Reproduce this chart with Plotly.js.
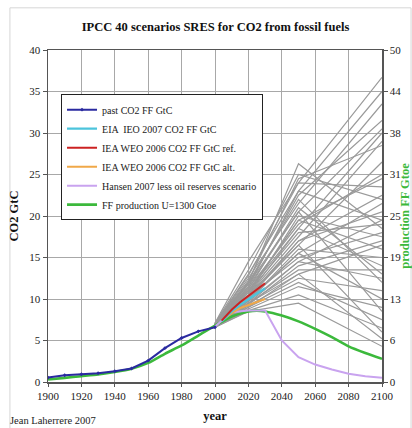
<!DOCTYPE html>
<html><head><meta charset="utf-8">
<script src="https://cdn.plot.ly/plotly-3.0.1.min.js"></script>
<style>html,body{margin:0;padding:0;background:#fff}#chart{width:412px;height:428px}</style>
</head><body><div id="chart"></div>
<script>
// ---- data ----
const pastYears = [1900,1910,1920,1930,1940,1950,1960,1970,1980,1990,2000];
const pastCO2 = [0.53,0.82,0.93,1.05,1.3,1.63,2.58,4.08,5.3,6.1,6.6];

const eiaYears = [2004,2010,2015,2020,2025,2030];
const eiaCO2 = [7.3,8.5,9.3,10.0,10.7,11.3];

const ieaRefYears = [2004,2010,2015,2030];
const ieaRefCO2 = [7.4,8.7,9.6,11.9];

const ieaAltYears = [2004,2010,2015,2030];
const ieaAltCO2 = [7.4,8.3,8.9,10.0];

const hansenYears = [2000,2010,2020,2030,2040,2050,2060,2070,2080,2090,2100];
const hansenCO2 = [6.7,8.4,8.6,8.6,5.0,3.0,2.1,1.5,1.0,0.7,0.5];

const ffYears = [1900,1910,1920,1930,1940,1950,1960,1970,1980,1990,2000,2010,2020,2025,2030,2040,2050,2060,2070,2080,2090,2100];
const ffCO2 = [0.3,0.5,0.7,0.9,1.2,1.6,2.3,3.4,4.4,5.6,6.8,7.9,8.5,8.6,8.5,8.0,7.3,6.4,5.4,4.3,3.5,2.8];

// IPCC SRES 40 scenarios (GtC), one value per scenario for each year
const scenarioYears = [2000,2020,2050,2100];
const sres2000 = [7.1,7.0,7.0,6.9,7.0,6.9,6.9,6.8,7.1,7.0,6.9,6.9,6.8,7.0,6.9,6.8,6.8,6.9,6.7,6.8,6.7,6.9,6.8,6.7,6.9,6.7,7.0,6.7,6.8,6.6,6.9,6.7,6.6,6.8,6.7,6.6,7.0,6.8,6.7,6.9];
const sres2020 = [14.5,13.0,12.5,11.8,12.0,11.5,11.0,10.5,13.5,12.8,11.2,10.8,10.2,11.5,10.5,10.0,9.8,10.8,9.5,10.2,9.3,11.0,9.8,9.0,10.5,9.5,12.0,9.2,10.0,8.8,11.8,9.0,8.6,10.5,9.5,8.5,12.2,10.3,9.7,11.3];
const sres2050 = [24.0,23.0,21.5,22.5,26.3,20.5,18.5,17.5,25.0,24.0,21.0,19.5,16.5,23.0,20.0,17.0,15.5,18.0,14.5,15.0,14.0,19.5,16.0,13.0,18.5,13.5,22.0,12.5,15.5,11.5,20.5,12.0,10.5,16.5,13.0,9.5,24.5,17.0,14.5,19.0];
const sres2100 = [36.7,35.0,33.5,31.5,18.5,30.5,30.0,29.0,22.0,23.5,13.0,24.5,26.5,19.5,17.5,20.5,21.5,19.0,19.5,18.0,17.0,16.0,15.0,16.5,14.0,13.5,12.0,11.0,10.0,9.0,8.5,7.5,6.5,6.0,5.2,4.3,28.5,22.5,12.5,25.0];

// right axis (Gtoe) tick labels
const gtoeTickVals = [0,6.25,12.5,18.75,25,31.25,37.5,43.75,50];
const gtoeTickText = ['0','6','13','19','25','31','38','44','50'];

// ---- traces ----
const traces = [];
for (let i = 0; i < sres2000.length; i++) {
  traces.push({
    x: scenarioYears,
    y: [sres2000[i], sres2020[i], sres2050[i], sres2100[i]],
    type: 'scatter', mode: 'lines',
    line: {color: '#9a9a9a', width: 1.2},
    showlegend: false, hoverinfo: 'skip'
  });
}
traces.push({x: ffYears, y: ffCO2, type: 'scatter', mode: 'lines', name: 'FF production U=1300 Gtoe',
  line: {color: '#3cb93c', width: 2.6, shape: 'spline', smoothing: 0.6}, legendrank: 6});
traces.push({x: hansenYears, y: hansenCO2, type: 'scatter', mode: 'lines', name: 'Hansen 2007 less oil reserves scenario',
  line: {color: '#c9a3ef', width: 2}, legendrank: 5});
traces.push({x: ieaAltYears, y: ieaAltCO2, type: 'scatter', mode: 'lines', name: 'IEA WEO 2006 CO2 FF GtC alt.',
  line: {color: '#f0a848', width: 2}, legendrank: 4});
traces.push({x: eiaYears, y: eiaCO2, type: 'scatter', mode: 'lines', name: 'EIA  IEO 2007 CO2 FF GtC',
  line: {color: '#4cc4dc', width: 2.2}, legendrank: 2});
traces.push({x: ieaRefYears, y: ieaRefCO2, type: 'scatter', mode: 'lines', name: 'IEA WEO 2006 CO2 FF GtC ref.',
  line: {color: '#cc2222', width: 2}, legendrank: 3});
traces.push({x: pastYears, y: pastCO2, type: 'scatter', mode: 'lines+markers', name: 'past CO2 FF GtC',
  line: {color: '#2a2aa0', width: 2}, marker: {color: '#2a2aa0', size: 3, symbol: 'diamond'}, legendrank: 1});
// right axis holder
traces.push({x: [], y: [], yaxis: 'y2', type: 'scatter', mode: 'lines', showlegend: false, hoverinfo: 'skip'});

const serif = '"Liberation Serif", "DejaVu Serif", serif';
const layout = {
  width: 412, height: 428,
  margin: {l: 48, r: 30, t: 50, b: 46},
  paper_bgcolor: '#ffffff', plot_bgcolor: '#ffffff',
  font: {family: serif, size: 11, color: '#222'},
  title: {text: 'IPCC 40 scenarios SRES for CO2 from fossil fuels', x: 0.523, xanchor: 'center', y: 0.937, yanchor: 'middle',
    font: {family: serif, size: 12.5, weight: 'bold', color: '#111'}},
  showlegend: true,
  legend: {x: 0.039, y: 0.867, xanchor: 'left', yanchor: 'top', bgcolor: '#ffffff', bordercolor: '#222', borderwidth: 1,
    font: {family: serif, size: 10, color: '#222'}, tracegroupgap: 0, itemwidth: 30},
  xaxis: {range: [1900, 2100], tickvals: [1900,1920,1940,1960,1980,2000,2020,2040,2060,2080,2100],
    tickfont: {family: serif, size: 11},
    showgrid: true, gridcolor: '#a8a8a8', gridwidth: 1, showline: true, linecolor: '#555', linewidth: 1.5, mirror: true,
    ticks: 'outside', ticklen: 3, tickcolor: '#555', zeroline: false,
    title: {text: 'year', font: {family: serif, size: 12.5, weight: 'bold', color: '#111'}, standoff: 10}},
  yaxis: {range: [0, 40], tickvals: [0,5,10,15,20,25,30,35,40], showgrid: true, gridcolor: '#a8a8a8', gridwidth: 1,
    tickfont: {family: serif, size: 11},
    showline: true, linecolor: '#555', linewidth: 1.5, ticks: 'outside', ticklen: 4, tickcolor: '#555', zeroline: false,
    title: {text: 'CO2 GtC', font: {family: serif, size: 12.5, weight: 'bold', color: '#111'}, standoff: 8}},
  yaxis2: {overlaying: 'y', side: 'right', range: [0, 50], tickvals: gtoeTickVals, ticktext: gtoeTickText,
    tickfont: {family: serif, size: 11},
    showgrid: false, showline: true, linecolor: '#555', linewidth: 1.5, ticks: 'outside', ticklen: 4, tickcolor: '#555', zeroline: false,
    title: {text: 'production FF Gtoe', font: {family: serif, size: 12.5, weight: 'bold', color: '#3cb93c'}, standoff: 2}},
  annotations: [{text: 'Jean Laherrere 2007', xref: 'paper', yref: 'paper', x: -0.12, y: -0.115, xanchor: 'left', yanchor: 'middle',
    showarrow: false, font: {family: serif, size: 10.5, color: '#222'}}],
  shapes: [{type: 'rect', xref: 'paper', yref: 'paper', x0: -0.114, x1: 1.087, y0: -0.14, y1: 1.127,
    line: {color: '#d6d6d6', width: 1}, fillcolor: 'rgba(0,0,0,0)', layer: 'below'}]
};
Plotly.newPlot('chart', traces, layout, {displayModeBar: false, staticPlot: true});
</script></body></html>
